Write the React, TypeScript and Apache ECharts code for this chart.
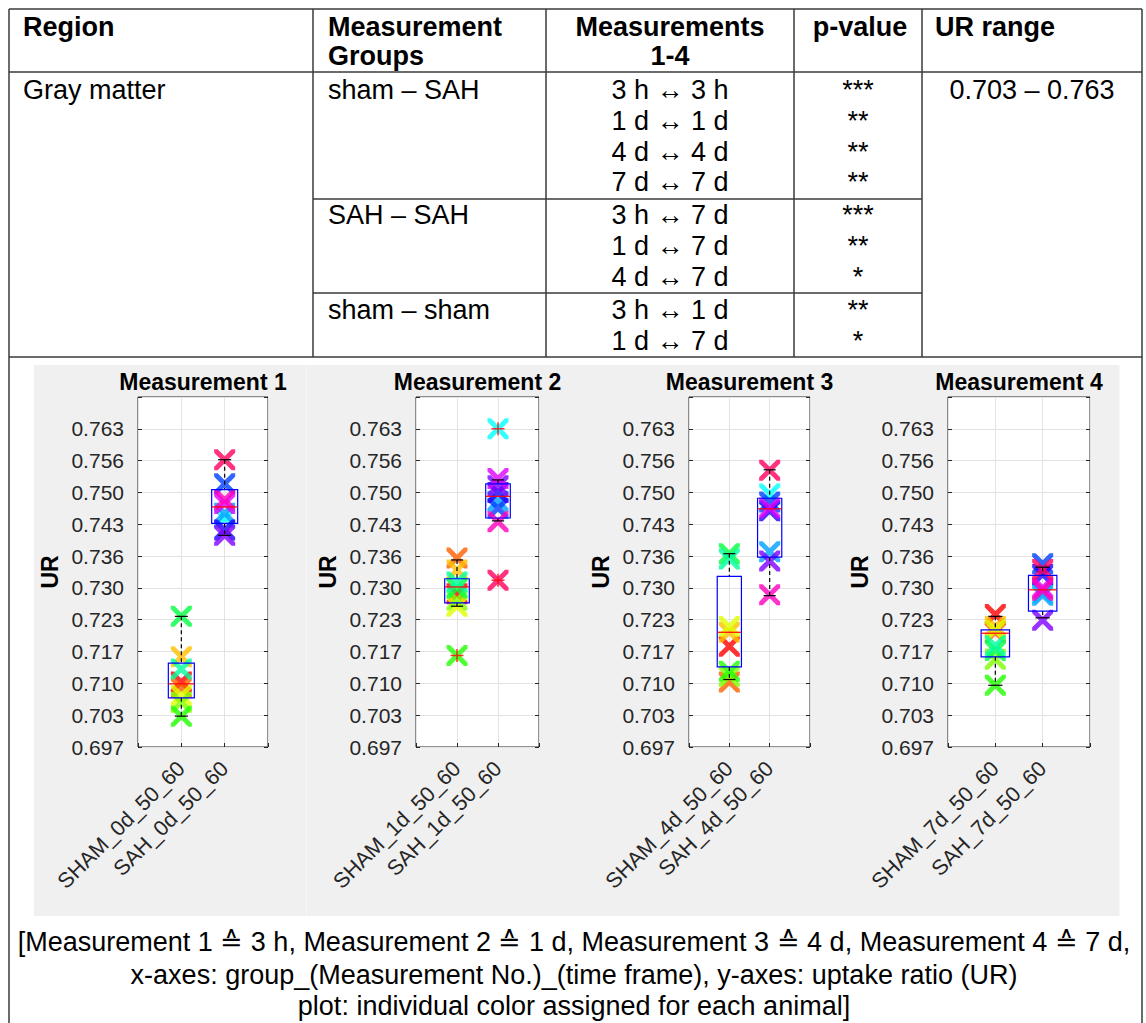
import React, { useEffect, useRef } from "react";
import * as echarts from "echarts";

// ---------- data ----------
const panelTitles = ["Measurement 1", "Measurement 2", "Measurement 3", "Measurement 4"];
const shamLabels = ["SHAM_0d_50_60", "SHAM_1d_50_60", "SHAM_4d_50_60", "SHAM_7d_50_60"];
const sahLabels = ["SAH_0d_50_60", "SAH_1d_50_60", "SAH_4d_50_60", "SAH_7d_50_60"];
const yTickLabels = ["0.697", "0.703", "0.710", "0.717", "0.723", "0.730", "0.736", "0.743", "0.750", "0.756", "0.763"];
const yMin = 0.697;
const yStep = 0.0066;
const yMax = 0.7696;

// one colour per animal
const shamColors = ["#ff0000", "#ff6000", "#ffbf00", "#dfff00", "#80ff00", "#20ff00", "#00ff40", "#00ff9f"];
const sahColors = ["#00ffff", "#009fff", "#0040ff", "#2000ff", "#8000ff", "#df00ff", "#ff00bf", "#ff0060"];

// UR per animal (order = colour order)
const shamM1 = [0.7105, 0.7093, 0.7157, 0.7077, 0.7063, 0.7034, 0.7241, 0.7132];
const sahM1 = [0.7445, 0.7455, 0.7516, 0.742, 0.7409, 0.7475, 0.7483, 0.7566];
const shamM2 = [0.7288, 0.7362, 0.7337, 0.7262, 0.7275, 0.716, 0.73, 0.7312];
const sahM2 = [0.763, 0.748, 0.7465, 0.7498, 0.7512, 0.7527, 0.7437, 0.7316];
const shamM3 = [0.7179, 0.7105, 0.7208, 0.722, 0.7117, 0.7127, 0.7371, 0.736];
const sahM3 = [0.7495, 0.7375, 0.7478, 0.746, 0.7356, 0.7466, 0.7286, 0.7544];
const shamM4 = [0.7245, 0.7208, 0.722, 0.7212, 0.7152, 0.7098, 0.717, 0.718];
const sahM4 = [0.729, 0.7285, 0.735, 0.7328, 0.7233, 0.73, 0.7295, 0.7338];

// box statistics [lower whisker, q1, median, q3, upper whisker]
const shamBoxes = [
  [0.7034, 0.7072, 0.7101, 0.7144, 0.7241],
  [0.7262, 0.7269, 0.7302, 0.7319, 0.7358],
  [0.711, 0.7136, 0.7208, 0.7324, 0.7371],
  [0.7098, 0.7157, 0.7206, 0.7213, 0.7241],
];
const sahBoxes = [
  [0.7409, 0.7434, 0.7468, 0.7504, 0.7566],
  [0.7439, 0.7445, 0.749, 0.7516, 0.7524],
  [0.7284, 0.7364, 0.7464, 0.7486, 0.7545],
  [0.7238, 0.7252, 0.7296, 0.7326, 0.7343],
];
// outliers [group (1 = SHAM, 2 = SAH), UR] per panel
const outliersM1: number[][] = [];
const outliersM2 = [[1, 0.716], [2, 0.763], [2, 0.7316]];
const outliersM3: number[][] = [];
const outliersM4: number[][] = [];

// table
const comparisonsShamSah = ["3 h \u2194 3 h", "1 d \u2194 1 d", "4 d \u2194 4 d", "7 d \u2194 7 d"];
const pShamSah = ["***", "**", "**", "**"];
const comparisonsSahSah = ["3 h \u2194 7 d", "1 d \u2194 7 d", "4 d \u2194 7 d"];
const pSahSah = ["***", "**", "*"];
const comparisonsShamSham = ["3 h \u2194 1 d", "1 d \u2194 7 d"];
const pShamSham = ["**", "*"];
const captionLines = [
  "[Measurement 1 \u2259 3 h, Measurement 2 \u2259 1 d, Measurement 3 \u2259 4 d, Measurement 4 \u2259 7 d,",
  "x-axes: group_(Measurement No.)_(time frame), y-axes: uptake ratio (UR)",
  "plot: individual color assigned for each animal]",
];

const shamAll = [shamM1, shamM2, shamM3, shamM4];
const sahAll = [sahM1, sahM2, sahM3, sahM4];
const outAll = [outliersM1, outliersM2, outliersM3, outliersM4];

// ---------- layout ----------
const FONT = '"Liberation Sans", Arial, Helvetica, sans-serif';
const plotTop = 397;
const plotH = 350;
const plotLefts = [138, 416, 689, 948];
const plotWidths = [130, 123, 121, 142];

const X_PATH =
  "path://M0,0 L2,0 L6,4 L10,0 L12,0 L12,2 L8,6 L12,10 L12,12 L10,12 L6,8 L2,12 L0,12 L0,10 L4,6 L0,2 Z";
const PLUS_PATH = "path://M5,0 L5,10 M0,5 L10,5";

function renderBox(params: any, api: any) {
  const x = api.value(0);
  const lo = api.value(1), q1 = api.value(2), med = api.value(3), q3 = api.value(4), hi = api.value(5);
  const c = (xx: number, yy: number) => api.coord([xx, yy]);
  const xc = c(x, med)[0];
  const yLo = c(x, lo)[1], yQ1 = c(x, q1)[1], yMed = c(x, med)[1], yQ3 = c(x, q3)[1], yHi = c(x, hi)[1];
  const xl = c(x - 0.3, med)[0], xr = c(x + 0.3, med)[0];
  const cl = c(x - 0.15, med)[0], cr = c(x + 0.15, med)[0];
  const dash = { stroke: "#000", lineWidth: 1.2, lineDash: [4, 3] };
  const solid = { stroke: "#000", lineWidth: 1.2 };
  return {
    type: "group",
    children: [
      { type: "line", shape: { x1: xc, y1: yHi, x2: xc, y2: yQ3 }, style: dash },
      { type: "line", shape: { x1: xc, y1: yQ1, x2: xc, y2: yLo }, style: dash },
      { type: "line", shape: { x1: cl, y1: yHi, x2: cr, y2: yHi }, style: solid },
      { type: "line", shape: { x1: cl, y1: yLo, x2: cr, y2: yLo }, style: solid },
      {
        type: "rect",
        shape: { x: xl, y: yQ3, width: xr - xl, height: yQ1 - yQ3 },
        style: { fill: "none", stroke: "#0000ff", lineWidth: 1.2 },
      },
      { type: "line", shape: { x1: xl, y1: yMed, x2: xr, y2: yMed }, style: { stroke: "#ff0000", lineWidth: 1.2 } },
    ],
  };
}

function yFmt(v: number) {
  const i = Math.round((v - yMin) / yStep);
  if (i < 0 || i > 10 || Math.abs(v - (yMin + i * yStep)) > 1e-6) return "";
  return yTickLabels[i];
}

function buildOption() {
  const grid: any[] = [];
  const xAxis: any[] = [];
  const yAxis: any[] = [];
  const series: any[] = [];
  const graphic: any[] = [];

  const line = (x1: number, y1: number, x2: number, y2: number) => ({
    type: "line",
    shape: { x1, y1, x2, y2 },
    style: { stroke: "#3a3a3a", lineWidth: 1.5 },
    z: 10,
  });
  const text = (t: string, x: number, y: number, align: string, bold = false, size = 27) => ({
    type: "text",
    x,
    y,
    z: 10,
    style: {
      text: t,
      fontSize: size,
      fontFamily: FONT,
      fontWeight: bold ? "bold" : "normal",
      fill: "#000",
      textAlign: align,
      textVerticalAlign: "middle",
      align,
      verticalAlign: "middle",
    },
  });

  // grey figure background
  graphic.push({ type: "rect", shape: { x: 34, y: 365, width: 272, height: 551 }, style: { fill: "#f0f0f0" }, z: -10 });
  graphic.push({ type: "rect", shape: { x: 306.5, y: 365, width: 813, height: 551 }, style: { fill: "#f0f0f0" }, z: -10 });

  // table lines
  graphic.push(line(9, 9, 1142, 9));
  graphic.push(line(9, 72, 1142, 72));
  graphic.push(line(9, 357, 1142, 357));
  graphic.push(line(9, 9, 9, 1023));
  graphic.push(line(1142, 9, 1142, 1023));
  graphic.push(line(313, 9, 313, 357));
  graphic.push(line(546, 9, 546, 357));
  graphic.push(line(794, 9, 794, 357));
  graphic.push(line(922, 9, 922, 357));
  graphic.push(line(313, 199, 922, 199));
  graphic.push(line(313, 293, 922, 293));

  // header
  graphic.push(text("Region", 23, 27, "left", true));
  graphic.push(text("Measurement", 328, 27, "left", true));
  graphic.push(text("Groups", 328, 56, "left", true));
  graphic.push(text("Measurements", 670, 27, "center", true));
  graphic.push(text("1-4", 670, 56, "center", true));
  graphic.push(text("p-value", 860, 27, "center", true));
  graphic.push(text("UR range", 935, 27, "left", true));

  // body
  graphic.push(text("Gray matter", 23, 90, "left"));
  graphic.push(text("sham \u2013 SAH", 328, 90, "left"));
  graphic.push(text("SAH \u2013 SAH", 328, 215, "left"));
  graphic.push(text("sham \u2013 sham", 328, 310, "left"));
  graphic.push(text("0.703 \u2013 0.763", 1032, 90, "center"));
  const rowsA = [90, 121, 152, 182];
  const rowsB = [215, 246, 277];
  const rowsC = [310, 341];
  comparisonsShamSah.forEach((t, i) => graphic.push(text(t, 670, rowsA[i], "center")));
  pShamSah.forEach((t, i) => graphic.push(text(t, 858, rowsA[i], "center")));
  comparisonsSahSah.forEach((t, i) => graphic.push(text(t, 670, rowsB[i], "center")));
  pSahSah.forEach((t, i) => graphic.push(text(t, 858, rowsB[i], "center")));
  comparisonsShamSham.forEach((t, i) => graphic.push(text(t, 670, rowsC[i], "center")));
  pShamSham.forEach((t, i) => graphic.push(text(t, 858, rowsC[i], "center")));

  // caption
  const capY = [942, 975, 1006];
  captionLines.forEach((t, i) => graphic.push(text(t, 574, capY[i], "center")));

  for (let i = 0; i < 4; i++) {
    grid.push({
      left: plotLefts[i],
      top: plotTop,
      width: plotWidths[i],
      height: plotH,
      show: true,
      backgroundColor: "#ffffff",
      borderColor: "#262626",
      borderWidth: 1,
    });
    const sham = shamLabels[i];
    const sah = sahLabels[i];
    xAxis.push({
      gridIndex: i,
      type: "value",
      min: 0,
      max: 3,
      interval: 1,
      axisLine: { show: false },
      axisTick: { show: true, inside: true, length: 4, lineStyle: { color: "#262626" } },
      splitLine: { show: true, lineStyle: { color: "#e3e3e3", width: 1 } },
      axisLabel: {
        rotate: 45,
        fontSize: 21.5,
        fontFamily: FONT,
        color: "#262626",
        margin: 18,
        formatter: (v: number) => (v === 1 ? sham : v === 2 ? sah : ""),
      },
    });
    yAxis.push({
      gridIndex: i,
      type: "value",
      min: yMin,
      max: yMax,
      interval: yStep,
      axisLine: { show: false },
      axisTick: { show: true, inside: true, length: 4, lineStyle: { color: "#262626" } },
      splitLine: { show: true, lineStyle: { color: "#e3e3e3", width: 1 } },
      axisLabel: { fontSize: 21, fontFamily: FONT, color: "#262626", margin: 14, formatter: yFmt },
      name: "UR",
      nameLocation: "middle",
      nameGap: 77,
      nameTextStyle: { fontSize: 23, fontWeight: "bold", fontFamily: FONT, color: "#000" },
    });
    yAxis.push({
      gridIndex: i,
      type: "value",
      position: "right",
      min: yMin,
      max: yMax,
      interval: yStep,
      axisLine: { show: false },
      axisTick: { show: true, inside: true, length: 4, lineStyle: { color: "#262626" } },
      splitLine: { show: false },
      axisLabel: { show: false },
    });

    series.push({
      type: "scatter",
      xAxisIndex: i,
      yAxisIndex: i * 2,
      symbol: X_PATH,
      symbolSize: 21,
      z: 3,
      data: [
        ...shamAll[i].map((v, k) => ({ value: [1, v], itemStyle: { color: shamColors[k] } })),
        ...sahAll[i].map((v, k) => ({ value: [2, v], itemStyle: { color: sahColors[k] } })),
      ],
    });
    series.push({
      type: "custom",
      xAxisIndex: i,
      yAxisIndex: i * 2,
      z: 4,
      renderItem: renderBox,
      encode: { x: 0, y: [1, 2, 3, 4, 5] },
      data: [
        [1, ...shamBoxes[i]],
        [2, ...sahBoxes[i]],
      ],
    });
    if (outAll[i].length) {
      series.push({
        type: "scatter",
        xAxisIndex: i,
        yAxisIndex: i * 2,
        symbol: PLUS_PATH,
        symbolSize: 13,
        z: 5,
        itemStyle: { color: "rgba(0,0,0,0)", borderColor: "#ff0000", borderWidth: 1.5 },
        data: outAll[i],
      });
    }
    graphic.push(text(panelTitles[i], plotLefts[i] + plotWidths[i] / 2, 382, "center", true, 23));
  }

  return {
    animation: false,
    backgroundColor: "#ffffff",
    grid,
    xAxis,
    yAxis,
    series,
    graphic,
  };
}

export default function App() {
  const ref = useRef<HTMLDivElement>(null);
  useEffect(() => {
    if (!ref.current) return;
    const chart = echarts.init(ref.current, undefined, { renderer: "svg" });
    chart.setOption(buildOption() as any);
    return () => chart.dispose();
  }, []);
  return (
    <div
      ref={ref}
      style={{ position: "absolute", left: 0, top: 0, width: 1146, height: 1023, background: "#fff" }}
    />
  );
}
